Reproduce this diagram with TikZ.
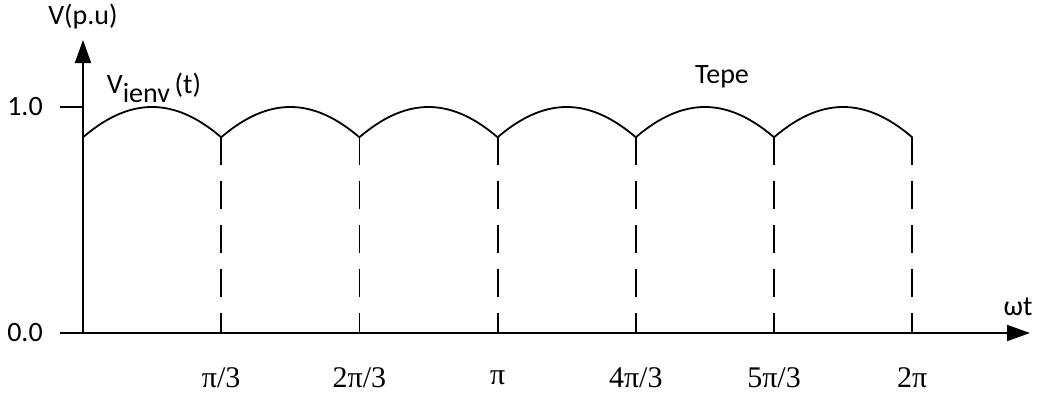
\documentclass[tikz,border=0pt]{standalone}
\usepackage{fontspec}
\setmainfont{Carlito}
\newfontfamily\pifont{Liberation Serif}
\usetikzlibrary{arrows.meta}
\begin{document}
\begin{tikzpicture}[x=1pt,y=-1pt,line width=1.8pt,font=\fontsize{28}{32}\selectfont]
    \tikzstyle{axis}=[-{Triangle[length=23pt,width=16pt]}]
    \tikzstyle{guide}=[dash pattern=on 28pt off 16pt]
    \tikzstyle{lbl}=[inner sep=0pt]
    \useasboundingbox (0,0) rectangle (1047,397);

    % axes
    \coordinate (O) at (83,333);
    \coordinate (Ytop) at (83,40);
    \coordinate (Xstart) at (60,333);
    \coordinate (Xend) at (1030,333);
    \draw[axis] (O) -- (Ytop);
    \draw[axis] (Xstart) -- (Xend);
    \coordinate (one) at (60,107);
    \draw (one) -- (O |- one);

    \node[lbl] (ylab) at (83,17) {V(p.u)};
    \node[lbl] (xlab) at (1018,307) {ωt};
    \node[lbl] (l00) at (25,333) {0.0};
    \node[lbl] (l10) at (25,107) {1.0};
    \node[lbl,anchor=west] (venv) at (106,88)
      {V\raisebox{-9pt}{\fontsize{28}{30}\selectfont ienv}\,(t)};
    \node[lbl] (tepe) at (722,77) {Tepe};

    % envelope and guides
    \foreach \k in {0,...,6}
    \coordinate (c-\k) at (83+\k*138.2,137.3);
    \foreach \k in {1,...,6}
    \coordinate (b-\k) at (83+\k*138.2,333);
    \foreach \k in {0,...,5}
    \draw[domain=-30:30,samples=31,smooth]
      plot ({83+\k*138.2+(\x+30)/60*138.2},{333-226*cos(\x)});
    \foreach \k in {1,...,6}
    \draw[guide] (c-\k) -- (b-\k);

    \foreach \k/\t in {1/{π/3},2/{2π/3},3/{π},4/{4π/3},5/{5π/3},6/{2π}}
    \node[lbl,font=\fontsize{30}{32}\pifont] (t-\k) at (83+\k*138.2,378) {\t};
\end{tikzpicture}
\end{document}
